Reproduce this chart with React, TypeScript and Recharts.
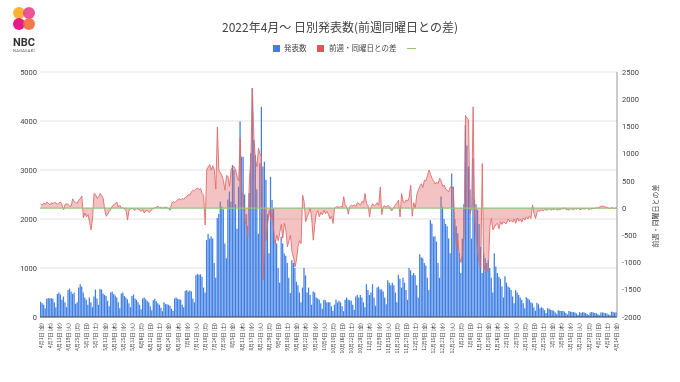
import { ComposedChart, Bar, Area, XAxis, YAxis, CartesianGrid, ReferenceLine } from 'recharts';

// tick labels, one every 6 days from 2022/4/1
const TICK_LABELS = [
	'4月1日 (金)', '4月7日 (木)', '4月13日 (水)', '4月19日 (火)', '4月25日 (月)', '5月1日 (日)', '5月7日 (土)', '5月13日 (金)',
	'5月19日 (木)', '5月25日 (水)', '5月31日 (火)', '6月6日 (月)', '6月12日 (日)', '6月18日 (土)', '6月24日 (金)', '6月30日 (木)',
	'7月6日 (水)', '7月12日 (火)', '7月18日 (月)', '7月24日 (日)', '7月30日 (土)', '8月5日 (金)', '8月11日 (木)', '8月17日 (水)',
	'8月23日 (火)', '8月29日 (月)', '9月4日 (日)', '9月10日 (土)', '9月16日 (金)', '9月22日 (木)', '9月28日 (水)', '10月4日 (火)',
	'10月10日 (月)', '10月16日 (日)', '10月22日 (土)', '10月28日 (金)', '11月3日 (木)', '11月9日 (水)', '11月15日 (火)', '11月21日 (月)',
	'11月27日 (日)', '12月3日 (土)', '12月9日 (金)', '12月15日 (木)', '12月21日 (水)', '12月27日 (火)', '1月2日 (月)', '1月8日 (日)',
	'1月14日 (土)', '1月20日 (金)', '1月26日 (木)', '2月1日 (水)', '2月7日 (火)', '2月13日 (月)', '2月19日 (日)', '2月25日 (土)',
	'3月3日 (金)', '3月9日 (木)', '3月15日 (水)', '3月21日 (火)', '3月27日 (月)', '4月2日 (日)', '4月8日 (土)', '4月14日 (金)',
];

// daily cases, one row per week (Fri..Thu)
const CASES = [
	310, 280, 250, 180, 370, 390, 380,
	390, 370, 300, 200, 470, 500, 460,
	350, 420, 300, 200, 550, 580, 520,
	470, 500, 270, 300, 600, 670, 620,
	500, 400, 350, 250, 400, 300, 200,
	420, 560, 380, 250, 570, 560, 480,
	450, 430, 330, 220, 500, 520, 470,
	440, 400, 300, 180, 480, 500, 430,
	400, 360, 280, 200, 430, 460, 380,
	350, 300, 250, 160, 380, 400, 360,
	330, 300, 220, 140, 340, 370, 320,
	280, 250, 190, 120, 300, 270, 260,
	250, 230, 170, 130, 380, 400, 370,
	360, 350, 250, 200, 530, 550, 520,
	540, 520, 380, 300, 850, 880, 860,
	870, 820, 600, 500, 1570, 1700, 1600,
	1650, 1600, 1100, 800, 2020, 2100, 2350,
	2250, 2200, 1500, 1200, 2400, 2560, 2350,
	3100, 3000, 2300, 1800, 2660, 3990, 3270,
	3270, 2500, 2100, 1850, 2530, 3340, 4670,
	3610, 3300, 2600, 1700, 3140, 4290, 3070,
	3170, 2800, 2100, 1300, 2860, 2390, 2200,
	1570, 1500, 1000, 700, 1640, 1500, 1300,
	1250, 1100, 800, 490, 1160, 1100, 1000,
	720, 650, 500, 300, 600, 1000, 850,
	500, 600, 450, 250, 520, 500, 400,
	380, 350, 280, 170, 350, 340, 300,
	300, 300, 220, 130, 250, 350, 300,
	330, 300, 220, 120, 350, 400, 350,
	340, 330, 250, 150, 420, 450, 400,
	450, 400, 300, 200, 670, 550, 450,
	500, 670, 400, 230, 600, 620, 560,
	560, 520, 400, 260, 750, 700, 650,
	700, 650, 500, 300, 860, 780, 600,
	800, 700, 550, 350, 1000, 950, 850,
	900, 850, 650, 400, 1280, 1220, 1200,
	1100, 1050, 800, 550, 1980, 1910, 1640,
	1650, 1540, 1100, 800, 2460, 2250, 2000,
	1900, 1850, 1600, 1300, 2930, 2660, 2000,
	1850, 1710, 1300, 900, 1600, 2300, 3920,
	3500, 3070, 2600, 1600, 3240, 2400, 2300,
	2180, 1900, 1430, 900, 1300, 1200, 1100,
	1160, 1000, 800, 500, 1300, 1030, 900,
	820, 780, 620, 400, 830, 700, 620,
	600, 550, 420, 280, 550, 500, 450,
	400, 350, 280, 180, 410, 380, 350,
	300, 280, 200, 130, 290, 260, 180,
	200, 180, 140, 80, 180, 170, 150,
	140, 130, 90, 60, 140, 130, 120,
	120, 110, 80, 50, 120, 110, 100,
	100, 90, 70, 40, 100, 80, 100,
	90, 80, 60, 40, 90, 100, 90,
	80, 75, 55, 35, 90, 95, 85,
	80, 70, 50, 35, 110, 100, 90,
	95,
];

// difference vs same weekday of previous week
const WEEK_DIFF = [
	80, 60, 90, 70, 110, 90, 60,
	100, 80, 110, 90, 70, 100, 110,
	60, -30, 70, 80, 70, 30, 40,
	170, 120, 100, 90, 150, 180, 220,
	-180, -90, -160, -120, -250, -400, -200,
	270, 250, 180, 200, 270, 230, 180,
	-30, -150, -110, -60, -20, 40, 60,
	90, 110, 20, 50, 0, 10, -20,
	-50, -220, -40, -20, 0, -30, -40,
	-10, -20, -40, -60, -30, -90, -50,
	-40, -80, -60, -20, -10, 10, 20,
	30, 10, 20, 0, 10, 20, 10,
	-10, -40, 90, 120, 100, 130, 150,
	170, 150, 180, 160, 200, 210, 250,
	240, 300, 330, 320, 350, 370, 340,
	360, 270, 230, -310, 700, 760, 800,
	700, 780, 700, 350, 1490, 700, 650,
	600, 500, 330, 600, 580, 400, 700,
	760, 760, 700, 570, 500, 1290, 300,
	200, -220, -300, -530, 500, 900, 2200,
	1290, 900, 760, 1100, 1000, 950, -1320,
	-600, -590, -300, -40, -200, -100, -400,
	-650, -500, -600, -450, -300, -550, -280,
	-400, -710, -600, -500, -800, -900, -1080,
	-950, -700, -600, -650, 240, 110, -250,
	-160, -100, 0, -200, -590, -300, -100,
	-50, -160, -80, -120, -40, -100, -60,
	-120, -200, -150, -280, 0, 20, 30,
	10, 30, 20, 210, 60, 20, -110,
	30, 50, 40, 60, 30, 100, 80,
	60, 120, 100, 270, 80, 50, -160,
	30, 80, 40, 60, 100, 50, 390,
	-120, 30, 40, 20, 50, 30, -40,
	-40, 20, 60, 100, 150, -160, 270,
	120, 100, 150, 130, 200, 420, -150,
	100, 0, 250, 330, 400, 450, 380,
	515, 500, 600, 700, 620, 550, 500,
	440, 480, 450, 550, 500, 400, 420,
	350, 330, 300, 390, 400, 350, -300,
	-750, -600, -900, -1000, -850, -500, 1700,
	1650, 1620, -100, 0, 1860, -200, -500,
	-830, -1000, -1100, 820, -1140, -1050, -1170,
	-1100, -340, -190, -400, -350, -300, -280,
	-380, -250, -300, -250, -280, -280, -200,
	-250, -220, -260, -200, -280, -180, -240,
	-200, -260, -180, -220, -160, -200, -150,
	-190, 60, -100, -190, -80, -40, -60,
	-30, -50, -20, -40, -30, -10, -40,
	-20, -30, -10, -40, -20, -30, -10,
	-20, 10, -30, -20, -40, -10, -20,
	-30, -10, -20, 0, -30, -20, -10,
	-20, -10, 0, -30, -10, -20, 0,
	-10, 10, 0, 20, 30, 40, 30,
	20, 10, 0, -10, 10, 0, -10,
	10,
];

const LEFT_TICKS = [0, 1000, 2000, 3000, 4000, 5000];
const RIGHT_TICKS = [-2000, -1500, -1000, -500, 0, 500, 1000, 1500, 2000, 2500];

const BLUE = '#3f7fe4';
const RED = '#e06666';
const GREEN = '#93c47d';
const JP = "'Noto Sans CJK JP', sans-serif";

const data = CASES.map((v, i) => ({ day: i, cases: v, diff: WEEK_DIFF[i] }));

function DateTick({ x, y, payload }: any) {
	const i = payload.value as number;
	if (i % 6 !== 0) return <g />;
	return (
		<text x={x} y={y} dy={1.8} transform={`rotate(-90 ${x} ${y})`} textAnchor="end" fontSize={5} fill="#444" fontFamily={JP}>
			{TICK_LABELS[i / 6]}
		</text>
	);
}

function Logo() {
	return (
		<div style={{ position: 'absolute', left: 8, top: 4, width: 32, textAlign: 'center', fontFamily: 'Roboto, sans-serif' }}>
			<svg width={32} height={28}>
				<g style={{ mixBlendMode: 'multiply' }}>
					<circle cx={11} cy={9} r={6} fill="#f9b233" />
					<circle cx={21} cy={9} r={6} fill="#e9418e" opacity={0.9} />
					<circle cx={11} cy={20} r={6} fill="#e5007d" opacity={0.9} />
					<circle cx={21} cy={20} r={6} fill="#f26b3a" opacity={0.9} />
				</g>
			</svg>
			<div style={{ fontSize: 11, fontWeight: 700, color: '#333', lineHeight: '11px', marginTop: 1 }}>NBC</div>
			<div style={{ fontSize: 4, color: '#555', lineHeight: '6px', letterSpacing: 0.3 }}>NAGASAKI</div>
		</div>
	);
}

export default function App() {
	const legendText = { position: 'absolute' as const, top: 43, fontSize: 7.5, lineHeight: '10px', color: '#444', fontFamily: JP };
	return (
		<div style={{ position: 'absolute', left: 0, top: 0, width: 680, height: 382, background: '#fff', overflow: 'hidden' }}>
			<ComposedChart width={680} height={382} data={data} margin={{ top: 72, right: 0, bottom: 0, left: 0 }} barCategoryGap={0}>
				<CartesianGrid yAxisId="left" vertical={false} stroke="#e2e2e2" />
				<XAxis dataKey="day" interval={5} tick={(p: any) => <DateTick {...p} />} tickLine={false} tickSize={4} tickMargin={2} axisLine={{ stroke: '#444' }} height={65} />
				<YAxis yAxisId="left" domain={[0, 5000]} ticks={LEFT_TICKS} width={40} axisLine={false} tickLine={false} tickSize={2} tickMargin={1}
					tick={{ fontSize: 7.5, fill: '#444', fontFamily: 'Roboto, sans-serif' }} />
				<YAxis yAxisId="right" orientation="right" domain={[-2000, 2500]} ticks={RIGHT_TICKS} width={63} axisLine={{ stroke: '#999' }} tickLine={false} tickSize={3} tickMargin={2}
					tick={{ fontSize: 7.5, fill: '#444', fontFamily: 'Roboto, sans-serif' }} />
				<Bar yAxisId="left" dataKey="cases" fill={BLUE} barSize={1.25} isAnimationActive={false} />
				<Area yAxisId="right" dataKey="diff" type="linear" baseValue={0} stroke={RED} strokeOpacity={0.85} strokeWidth={1} fill={RED} fillOpacity={0.4} dot={false} activeDot={false} isAnimationActive={false} zIndex={350} />
				<ReferenceLine yAxisId="right" y={0} stroke={GREEN} strokeWidth={1.2} />
			</ComposedChart>

			<Logo />
			<div style={{ position: 'absolute', left: 0, top: 19, width: 680, textAlign: 'center', fontSize: 12, lineHeight: '16px', color: '#444', fontFamily: JP }}>
				2022年4月～ 日別発表数(前週同曜日との差)
			</div>

			{/* legend */}
			<div style={{ position: 'absolute', left: 273, top: 44.5, width: 7, height: 7, background: BLUE }} />
			<div style={{ ...legendText, left: 284 }}>発表数</div>
			<div style={{ position: 'absolute', left: 317, top: 44.5, width: 7, height: 7, background: '#e05656' }} />
			<div style={{ ...legendText, left: 329 }}>前週・同曜日との差</div>
			<div style={{ position: 'absolute', left: 407, top: 47.5, width: 9, height: 1.5, background: GREEN }} />

			{/* right axis title */}
			<div style={{ position: 'absolute', left: 655, top: 216, transform: 'translate(-50%, -50%) rotate(-90deg)', whiteSpace: 'nowrap', fontSize: 7, color: '#444', fontFamily: JP }}>
				前週・同曜日との差
			</div>
		</div>
	);
}
